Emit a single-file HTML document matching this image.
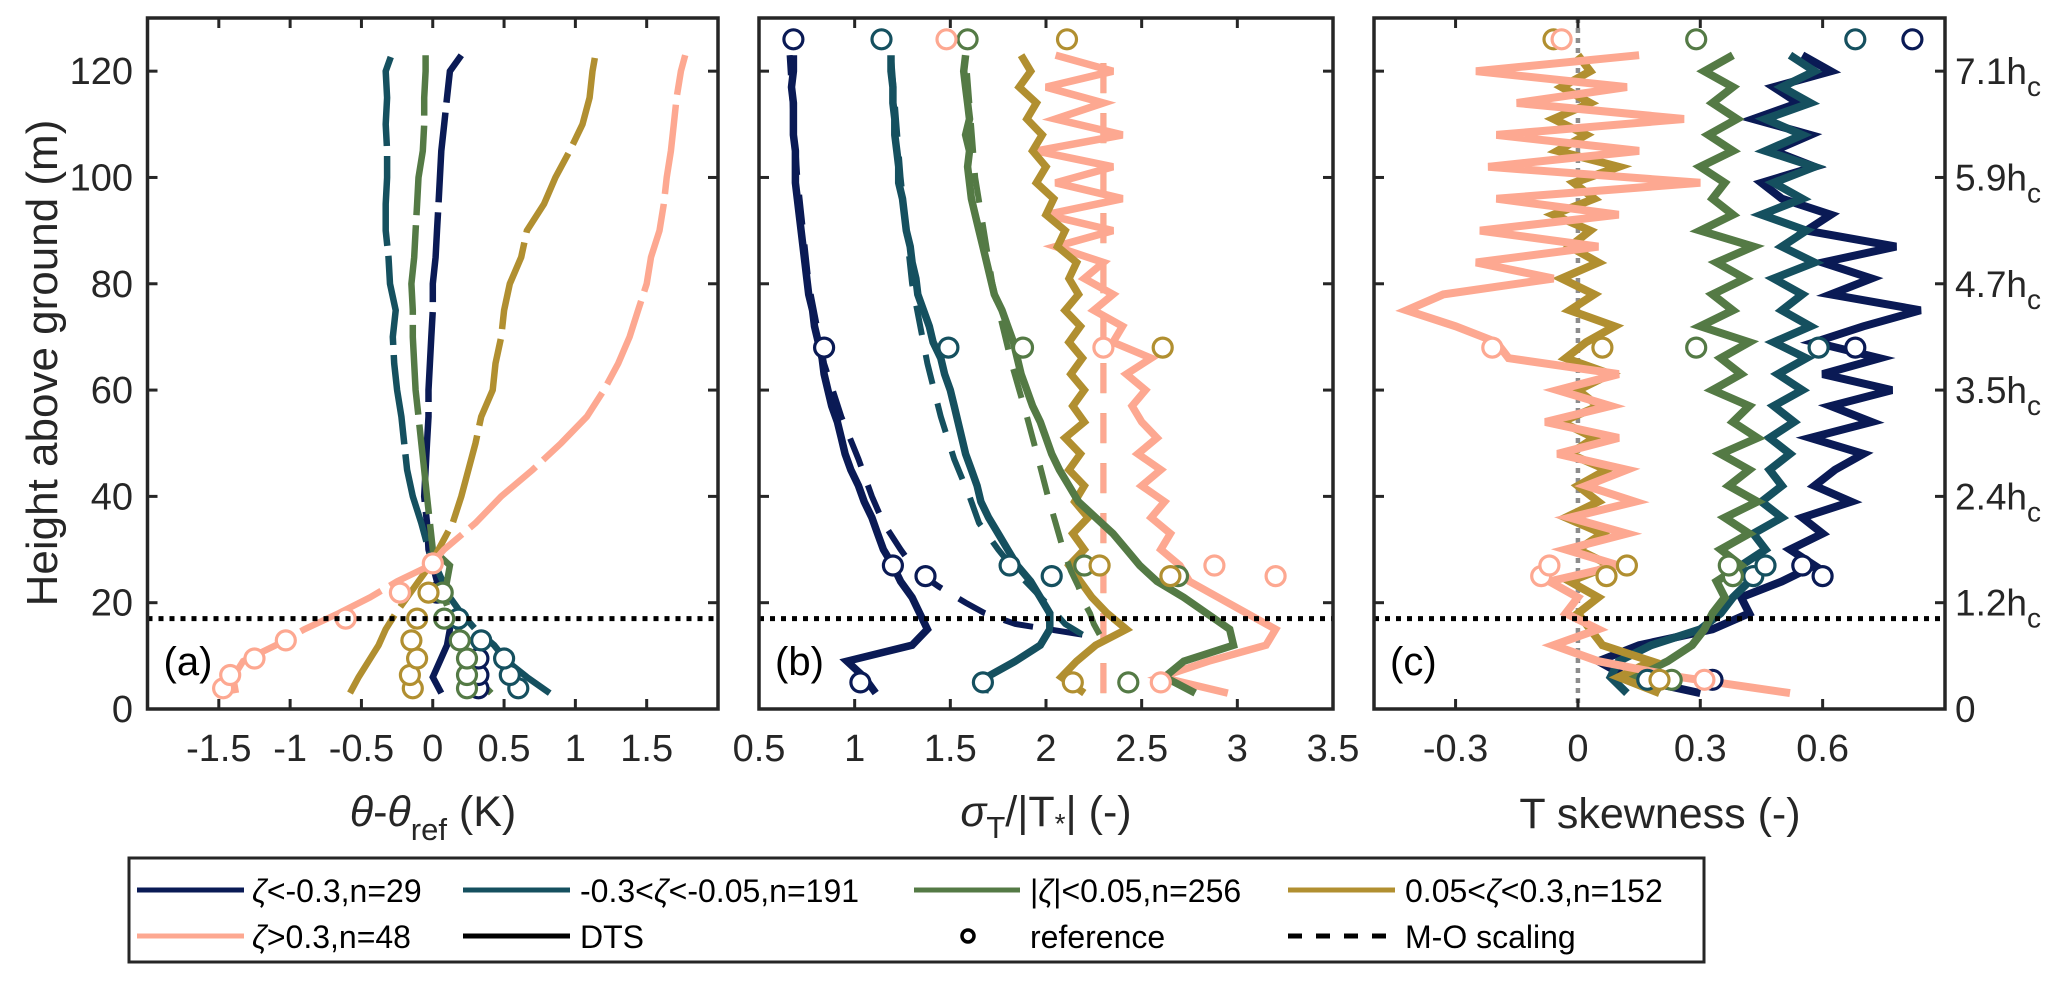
<!DOCTYPE html>
<html><head><meta charset="utf-8">
<style>
html,body{margin:0;padding:0;background:#fff;}
svg{display:block;font-family:"Liberation Sans",Arial,sans-serif;}
</style></head>
<body>
<svg id="chart" width="2067" height="982" viewBox="0 0 2067 982" xmlns="http://www.w3.org/2000/svg">
<rect x="0" y="0" width="2067" height="982" fill="#fff"/>
<g id="marks"></g>
<g id="frames"></g>
<text transform="translate(57,363) rotate(-90)" text-anchor="middle" font-size="44" fill="#262626">Height above ground (m)</text>
<text x="433" y="826" text-anchor="middle" font-size="43" fill="#262626"><tspan font-style="italic">θ</tspan>-<tspan font-style="italic">θ</tspan><tspan font-size="31" dy="14">ref</tspan><tspan dy="-14"> (K)</tspan></text>
<text x="1046" y="826" text-anchor="middle" font-size="43" fill="#262626"><tspan font-style="italic">σ</tspan><tspan font-size="31" dy="12">T</tspan><tspan dy="-12">/|T</tspan><tspan font-size="28" dy="7">*</tspan><tspan dy="-7">| (-)</tspan></text>
<text x="1660" y="828" text-anchor="middle" font-size="43" fill="#262626">T skewness (-)</text>
<g>
<rect x="129" y="858" width="1575" height="104" fill="#fff" stroke="#262626" stroke-width="3"/>
<line x1="137" y1="890" x2="244" y2="890" stroke="#0a1a55" stroke-width="5"/>
<text x="252" y="902" font-size="32" fill="#000"><tspan font-style="italic">ζ</tspan>&lt;-0.3,n=29</text>
<line x1="463" y1="890" x2="570" y2="890" stroke="#15505f" stroke-width="5"/>
<text x="580" y="902" font-size="32" fill="#000">-0.3&lt;<tspan font-style="italic">ζ</tspan>&lt;-0.05,n=191</text>
<line x1="914" y1="890" x2="1020" y2="890" stroke="#547a45" stroke-width="5"/>
<text x="1030" y="902" font-size="32" fill="#000">|<tspan font-style="italic">ζ</tspan>|&lt;0.05,n=256</text>
<line x1="1288" y1="890" x2="1395" y2="890" stroke="#b18f30" stroke-width="5"/>
<text x="1405" y="902" font-size="32" fill="#000">0.05&lt;<tspan font-style="italic">ζ</tspan>&lt;0.3,n=152</text>
<line x1="137" y1="936" x2="244" y2="936" stroke="#fda891" stroke-width="5"/>
<text x="252" y="948" font-size="32" fill="#000"><tspan font-style="italic">ζ</tspan>&gt;0.3,n=48</text>
<line x1="463" y1="936" x2="570" y2="936" stroke="#000" stroke-width="5"/>
<text x="580" y="948" font-size="32" fill="#000">DTS</text>
<circle cx="968" cy="936" r="6" fill="#fff" stroke="#000" stroke-width="3.5"/>
<text x="1030" y="948" font-size="32" fill="#000">reference</text>
<line x1="1288" y1="936" x2="1395" y2="936" stroke="#000" stroke-width="5" stroke-dasharray="14 14"/>
<text x="1405" y="948" font-size="32" fill="#000">M-O scaling</text>
</g>
</svg>
<script>
// ---------- data ----------
const hA = [3,6,9,12,15,18,21,24,27,30,35,40,45,50,55,60,65,70,75,80,85,90,95,100,105,110,115,120,123];
const aNavy = [0.06,0.0,0.05,0.1,0.12,0.1,0.05,0.03,0.0,-0.03,-0.04,-0.06,-0.05,-0.04,-0.03,-0.03,-0.02,-0.01,0.0,0.0,0.02,0.03,0.04,0.05,0.06,0.08,0.1,0.12,0.2];
const aTeal = [0.82,0.66,0.52,0.43,0.3,0.2,0.12,0.07,0.02,-0.03,-0.08,-0.14,-0.18,-0.2,-0.22,-0.25,-0.27,-0.28,-0.26,-0.3,-0.31,-0.33,-0.33,-0.32,-0.32,-0.33,-0.32,-0.33,-0.29];
const aGreen = [0.41,0.3,0.24,0.22,0.18,0.12,0.08,0.1,0.12,0.0,-0.02,-0.04,-0.06,-0.08,-0.1,-0.12,-0.13,-0.14,-0.14,-0.15,-0.13,-0.12,-0.11,-0.1,-0.07,-0.06,-0.06,-0.05,-0.05];
const aOlive = [-0.58,-0.52,-0.45,-0.38,-0.33,-0.26,-0.18,-0.1,-0.02,0.04,0.14,0.2,0.25,0.3,0.34,0.42,0.44,0.48,0.5,0.54,0.62,0.66,0.78,0.86,0.96,1.05,1.1,1.12,1.14];
const aPink = [-1.38,-1.4,-1.33,-1.1,-0.9,-0.66,-0.44,-0.25,-0.02,0.08,0.3,0.48,0.7,0.9,1.08,1.2,1.3,1.38,1.44,1.5,1.53,1.59,1.62,1.64,1.67,1.69,1.71,1.74,1.77];
const refHA = [3.9,6.4,9.5,12.9,17,21.9,27.4];
const refANavy = [0.32,0.32,0.32,null,null,0.03,null];
const refATeal = [0.6,0.54,0.5,0.34,0.18,null,null];
const refAGreen = [0.24,0.24,0.24,0.19,0.08,0.07,null];
const refAOlive = [-0.14,-0.16,-0.11,-0.15,-0.11,-0.03,null];
const refAPink = [-1.47,-1.42,-1.25,-1.03,-0.61,-0.23,0.0];

const hB = [3,6,9,12,15,18,21,24,27,30,33,36,39,42,45,48,51,54,57,60,63,66,69,72,75,78,81,84,87,90,93,96,99,102,105,108,111,114,117,120,123];
const bNavy = [1.11,1.05,0.96,1.3,1.38,1.34,1.3,1.24,1.2,1.15,1.12,1.09,1.05,1.02,0.98,0.95,0.93,0.91,0.88,0.86,0.84,0.83,0.81,0.79,0.78,0.76,0.75,0.74,0.73,0.72,0.71,0.7,0.69,0.69,0.69,0.68,0.68,0.68,0.67,0.68,0.68];
const bTeal = [1.68,1.69,1.84,1.97,2.02,2.02,1.97,1.92,1.85,1.8,1.75,1.7,1.66,1.64,1.61,1.58,1.56,1.54,1.52,1.5,1.47,1.45,1.41,1.39,1.36,1.33,1.32,1.3,1.29,1.27,1.26,1.25,1.23,1.23,1.22,1.21,1.21,1.2,1.2,1.19,1.19];
const bGreen = [2.78,2.62,2.72,2.98,2.96,2.84,2.72,2.58,2.49,2.42,2.35,2.26,2.17,2.12,2.07,2.03,2.0,1.97,1.93,1.9,1.87,1.85,1.83,1.8,1.77,1.73,1.71,1.69,1.67,1.65,1.63,1.61,1.6,1.59,1.6,1.58,1.6,1.59,1.58,1.57,1.58];
const bOlive = [2.2,2.08,2.16,2.26,2.42,2.32,2.24,2.18,2.12,2.2,2.14,2.22,2.15,2.2,2.12,2.18,2.1,2.2,2.14,2.2,2.13,2.19,2.12,2.18,2.1,2.17,2.12,2.16,2.06,2.1,2.0,2.04,1.95,2.0,1.93,1.98,1.9,1.95,1.86,1.92,1.87];
const bPink = [2.95,2.6,2.85,3.15,3.2,3.05,2.9,2.75,2.7,2.6,2.65,2.55,2.62,2.5,2.6,2.48,2.58,2.5,2.45,2.52,2.42,2.55,2.35,2.4,2.25,2.35,2.2,2.3,2.05,2.35,2.0,2.4,2.05,2.35,1.95,2.4,2.05,2.3,2.0,2.35,2.05];
const hMO = [14,16,18,20,23,26,30,35,40,47,55,65,80,100,123];
const moNavy = [2.19,1.84,1.68,1.58,1.44,1.32,1.24,1.15,1.09,1.02,0.93,0.84,0.76,0.7,0.66];
const moTeal = [2.19,2.1,2.05,2.0,1.92,1.84,1.75,1.65,1.6,1.52,1.45,1.38,1.3,1.24,1.19];
const moGreen = [2.28,2.25,2.23,2.2,2.17,2.13,2.09,2.05,2.01,1.96,1.9,1.82,1.72,1.63,1.58];
const hMOflat = [3,124];
const moOlive = [2.3,2.3];
const moPink = [2.3,2.3];
const refHB = [5,25,27,68,126];
const refBNavy = [1.03,1.37,1.2,0.84,0.68];
const refBTeal = [1.67,2.03,1.81,1.49,1.14];
const refBGreen = [2.43,2.69,2.2,1.88,1.59];
const refBOlive = [2.14,2.65,2.28,2.61,2.11];
const refBPink = [2.6,3.2,2.88,2.3,1.48];

const cNavy = [0.3,0.12,0.05,0.15,0.33,0.42,0.4,0.5,0.58,0.52,0.6,0.55,0.67,0.58,0.63,0.7,0.57,0.72,0.62,0.77,0.6,0.74,0.58,0.7,0.84,0.62,0.72,0.6,0.78,0.56,0.62,0.5,0.45,0.58,0.48,0.57,0.43,0.54,0.48,0.62,0.55];
const cTeal = [0.12,0.08,0.1,0.18,0.3,0.35,0.38,0.42,0.4,0.46,0.43,0.5,0.45,0.5,0.47,0.52,0.47,0.53,0.48,0.55,0.49,0.56,0.48,0.57,0.5,0.55,0.48,0.58,0.5,0.56,0.45,0.55,0.48,0.58,0.46,0.55,0.46,0.57,0.5,0.58,0.52];
const cGreen = [0.2,0.14,0.22,0.28,0.31,0.33,0.36,0.34,0.4,0.35,0.42,0.36,0.44,0.37,0.42,0.35,0.44,0.38,0.42,0.33,0.4,0.35,0.42,0.3,0.38,0.33,0.41,0.34,0.43,0.3,0.38,0.33,0.36,0.3,0.38,0.32,0.39,0.33,0.38,0.31,0.38];
const cOlive = [0.2,0.1,0.18,0.06,0.03,0.0,0.05,-0.02,0.08,0.0,0.06,-0.03,0.05,0.0,0.07,-0.02,0.04,-0.04,0.05,0.0,0.08,-0.03,0.02,0.09,-0.02,0.04,-0.04,0.05,-0.02,0.03,-0.06,0.04,-0.01,0.1,-0.05,0.02,-0.06,0.03,-0.04,0.03,0.0];
const cPink = [0.52,0.25,0.05,-0.06,0.05,-0.03,0.0,-0.07,0.1,-0.03,0.12,-0.02,0.14,0.02,0.12,-0.05,0.1,-0.08,0.08,-0.05,0.1,-0.17,-0.2,-0.3,-0.42,-0.33,-0.06,-0.25,0.05,-0.24,0.1,-0.2,0.3,-0.22,0.15,-0.2,0.26,-0.15,0.12,-0.25,0.15];
const refHC = [5.5,25,27,68,126];
const refCNavy = [0.33,0.6,0.55,0.68,0.82];
const refCTeal = [0.17,0.43,0.46,0.59,0.68];
const refCGreen = [0.23,0.38,0.37,0.29,0.29];
const refCOlive = [0.2,0.07,0.12,0.06,-0.06];
const refCPink = [0.31,-0.09,-0.07,-0.21,-0.04];

const yTicks = [0,20,40,60,80,100,120];
const xTicksA = [-1.5,-1,-0.5,0,0.5,1,1.5];
const xTicksB = [0.5,1,1.5,2,2.5,3,3.5];
const xTicksC = [-0.3,0,0.3,0.6];
const rightLabels = ["0","1.2","2.4","3.5","4.7","5.9","7.1"];
const hcLine = 17;

// ---------- layout ----------
const NS = "http://www.w3.org/2000/svg";
const TOP = 18, BOT = 709, YMAX = 130;
const yS = v => BOT - v / YMAX * (BOT - TOP);
const panels = {
  a: {x0:147.5, x1:718, min:-2, max:2},
  b: {x0:759, x1:1333, min:0.5, max:3.5},
  c: {x0:1374, x1:1945, min:-0.5, max:0.9}
};
function xS(p, v){ const P = panels[p]; return P.x0 + (v - P.min) / (P.max - P.min) * (P.x1 - P.x0); }
const COL = {navy:"#0a1a55", teal:"#15505f", green:"#547a45", olive:"#b18f30", pink:"#fda891"};
const marks = document.getElementById('marks');
const frames = document.getElementById('frames');
function mk(tag, attrs, parent){ const e = document.createElementNS(NS, tag); for (const k in attrs) e.setAttribute(k, attrs[k]); parent.appendChild(e); return e; }

function series(p, hs, vs, color, width, dash, name){
  let d = "";
  hs.forEach((h,i) => { if (vs[i] === null) return; d += (d ? "L" : "M") + xS(p, vs[i]).toFixed(1) + "," + yS(h).toFixed(1); });
  const el = mk('path', {d:d, fill:"none", stroke:color, "stroke-width":width, "stroke-linejoin":"miter", "stroke-linecap":"butt"}, marks);
  if (dash) el.setAttribute('stroke-dasharray', dash);
  
  
}
function refs(p, hs, vs, color, name){
  hs.forEach((h,i) => {
    if (vs[i] === null) return;
    const c = mk('circle', {cx:xS(p, vs[i]).toFixed(1), cy:yS(h).toFixed(1), r:9.5, fill:"#fff", stroke:color, "stroke-width":3.2}, marks);
    
    
  });
}

// panel a
series('a', hA, aNavy, COL.navy, 6.5, "90 10", 'a-line-zeta-lt-neg03');
series('a', hA, aTeal, COL.teal, 6.5, "90 10", 'a-line-zeta-neg03-neg005');
series('a', hA, aGreen, COL.green, 6.5, "90 10", 'a-line-zeta-neutral');
series('a', hA, aOlive, COL.olive, 6.5, "90 10", 'a-line-zeta-005-03');
series('a', hA, aPink, COL.pink, 6.5, "90 10", 'a-line-zeta-gt-03');
refs('a', refHA, refANavy, COL.navy, 'a-ref-navy');
refs('a', refHA, refATeal, COL.teal, 'a-ref-teal');
refs('a', refHA, refAGreen, COL.green, 'a-ref-green');
refs('a', refHA, refAOlive, COL.olive, 'a-ref-olive');
refs('a', refHA, refAPink, COL.pink, 'a-ref-pink');

// panel b
series('b', hMOflat, moOlive, COL.olive, 6, "30 20", 'b-mo-olive');
series('b', hMOflat, moPink, COL.pink, 6, "30 20", 'b-mo-pink');
series('b', hB, bPink, COL.pink, 7.5, null, 'b-line-zeta-gt-03');
series('b', hB, bOlive, COL.olive, 7.5, null, 'b-line-zeta-005-03');
series('b', hB, bGreen, COL.green, 7.5, null, 'b-line-zeta-neutral');
series('b', hB, bTeal, COL.teal, 7.5, null, 'b-line-zeta-neg03-neg005');
series('b', hB, bNavy, COL.navy, 7.5, null, 'b-line-zeta-lt-neg03');
series('b', hMO, moNavy, COL.navy, 6, "30 20", 'b-mo-navy');
series('b', hMO, moTeal, COL.teal, 6, "30 20", 'b-mo-teal');
series('b', hMO, moGreen, COL.green, 6, "30 20", 'b-mo-green');
refs('b', refHB, refBNavy, COL.navy, 'b-ref-navy');
refs('b', refHB, refBTeal, COL.teal, 'b-ref-teal');
refs('b', refHB, refBGreen, COL.green, 'b-ref-green');
refs('b', refHB, refBOlive, COL.olive, 'b-ref-olive');
refs('b', refHB, refBPink, COL.pink, 'b-ref-pink');

// panel c
const zl = mk('line', {x1:xS('c',0), x2:xS('c',0), y1:TOP, y2:BOT, stroke:"#8c8c8c", "stroke-width":4.5, "stroke-dasharray":"5 5"}, marks);


series('c', hB, cNavy, COL.navy, 8, null, 'c-line-zeta-lt-neg03');
series('c', hB, cTeal, COL.teal, 8, null, 'c-line-zeta-neg03-neg005');
series('c', hB, cGreen, COL.green, 8, null, 'c-line-zeta-neutral');
series('c', hB, cOlive, COL.olive, 8, null, 'c-line-zeta-005-03');
series('c', hB, cPink, COL.pink, 8, null, 'c-line-zeta-gt-03');
refs('c', refHC, refCNavy, COL.navy, 'c-ref-navy');
refs('c', refHC, refCTeal, COL.teal, 'c-ref-teal');
refs('c', refHC, refCGreen, COL.green, 'c-ref-green');
refs('c', refHC, refCOlive, COL.olive, 'c-ref-olive');
refs('c', refHC, refCPink, COL.pink, 'c-ref-pink');

// frames, ticks, labels
const AX = "#262626";
const tickSets = {a:xTicksA, b:xTicksB, c:xTicksC};
const panelLabels = {a:"(a)", b:"(b)", c:"(c)"};
Object.keys(panels).forEach(p => {
  const P = panels[p];
  const hl = mk('line', {x1:P.x0, x2:P.x1, y1:yS(hcLine), y2:yS(hcLine), stroke:"#000", "stroke-width":5, "stroke-dasharray":"5 6"}, frames);
  
  
  const fr = mk('rect', {x:P.x0, y:TOP, width:P.x1-P.x0, height:BOT-TOP, fill:"none", stroke:AX, "stroke-width":3.5}, frames);
  
  
  tickSets[p].forEach(v => {
    const x = xS(p, v);
    mk('line', {x1:x, x2:x, y1:BOT, y2:BOT-10, stroke:AX, "stroke-width":3}, frames);
    mk('line', {x1:x, x2:x, y1:TOP, y2:TOP+10, stroke:AX, "stroke-width":3}, frames);
    const t = mk('text', {x:x, y:761, "text-anchor":"middle", "font-size":38, fill:AX}, frames);
    t.textContent = String(v);
    
    
  });
  yTicks.forEach(v => {
    const y = yS(v);
    mk('line', {x1:P.x0, x2:P.x0+10, y1:y, y2:y, stroke:AX, "stroke-width":3}, frames);
    mk('line', {x1:P.x1, x2:P.x1-10, y1:y, y2:y, stroke:AX, "stroke-width":3}, frames);
  });
  const pl = mk('text', {x:P.x0+16, y:675, "font-size":40, fill:"#000"}, frames);
  pl.textContent = panelLabels[p];
  
  
});
yTicks.forEach(v => {
  const t = mk('text', {x:133, y:yS(v)+13, "text-anchor":"end", "font-size":38, fill:AX}, frames);
  t.textContent = String(v);
  
  
});
yTicks.forEach((v,i) => {
  const t = mk('text', {x:1955, y:yS(v)+13, "font-size":37, fill:AX}, frames);
  if (i === 0) { t.textContent = "0"; }
  else {
    t.textContent = rightLabels[i] + "h";
    const s = mk('tspan', {"font-size":28, dy:12}, t);
    s.textContent = "c";
  }
  
  
});
</script>
</body></html>
